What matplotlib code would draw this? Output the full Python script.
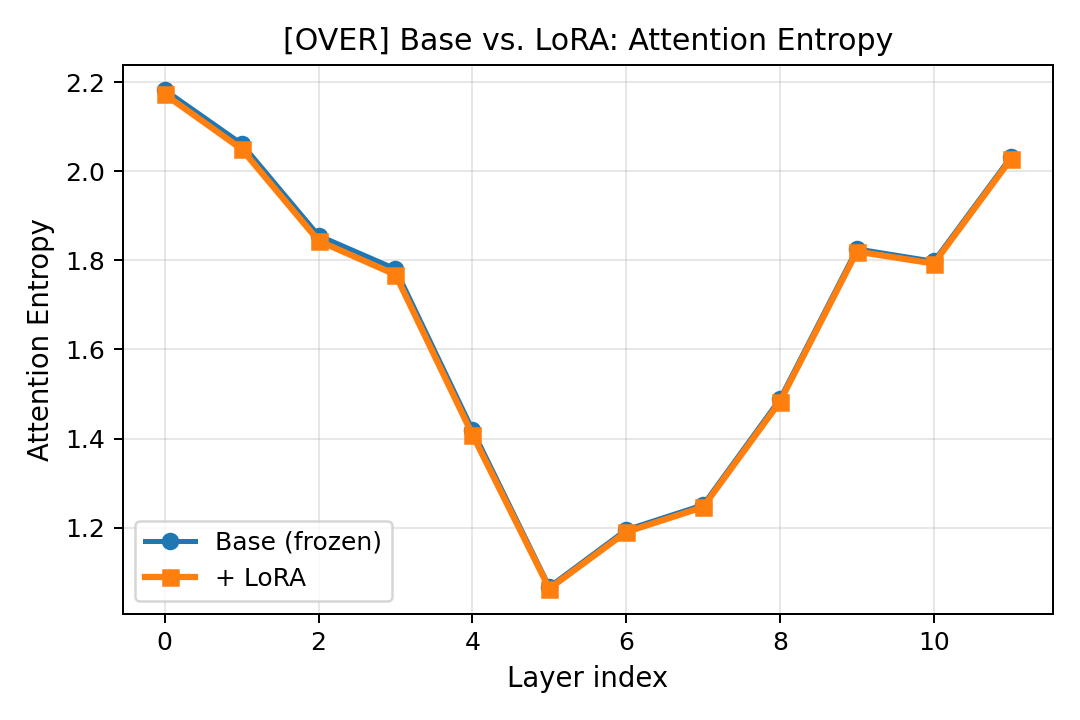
import matplotlib
matplotlib.use("Agg")
import matplotlib.pyplot as plt
import numpy as np

layers = list(range(12))
base_entropy = [2.183, 2.062, 1.856, 1.781, 1.420, 1.067, 1.195, 1.251, 1.489, 1.826, 1.798, 2.032]
lora_entropy = [2.173, 2.050, 1.844, 1.768, 1.409, 1.063, 1.190, 1.246, 1.483, 1.820, 1.793, 2.027]

fig, ax = plt.subplots(figsize=(6, 4), dpi=180)
ax.plot(layers, base_entropy, marker='o', linewidth=2, label='Base (frozen)')
ax.plot(layers, lora_entropy, marker='s', linewidth=2.5, label='+ LoRA')
ax.set_title('[OVER] Base vs. LoRA: Attention Entropy', fontsize=12)
ax.set_xlabel('Layer index', fontsize=11)
ax.set_ylabel('Attention Entropy', fontsize=11)
ax.grid(True, alpha=0.3)
ax.legend(loc='lower left')
fig.tight_layout()
fig.savefig('out.png', dpi=180)
